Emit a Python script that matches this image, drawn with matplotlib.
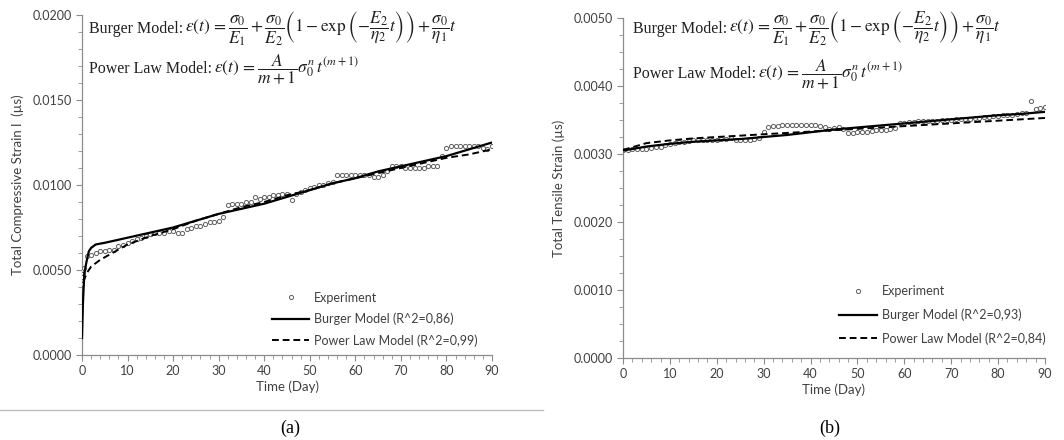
import numpy as np
import matplotlib
matplotlib.use("Agg")
import matplotlib.pyplot as plt
from matplotlib.ticker import MultipleLocator, FormatStrFormatter

# ----------------------------
# Datos
# ----------------------------
# (a) compresion
t_exp_a = [0, 0, 0, 0.2, 0.2, 0.4] + list(range(1, 91))
eps_exp_a = [0.0042, 0.0044, 0.0046, 0.0048, 0.0050, 0.0051,
             0.0058, 0.0059, 0.0060, 0.0061, 0.0061, 0.0062, 0.0062, 0.0064, 0.0065, 0.0066,
             0.0067, 0.0068, 0.0069, 0.0070, 0.0071, 0.0072, 0.0072, 0.0072, 0.0073, 0.0073,
             0.0072, 0.0072, 0.0074, 0.0075, 0.0076, 0.0076, 0.0077, 0.0078, 0.0078, 0.0079,
             0.0081, 0.0088, 0.0089, 0.0089, 0.0089, 0.0090, 0.0090, 0.0093, 0.0092, 0.0093,
             0.0093, 0.0094, 0.0094, 0.0095, 0.0095, 0.0091, 0.0095, 0.0096, 0.0097, 0.0098,
             0.0099, 0.0100, 0.0100, 0.0101, 0.0102, 0.0106, 0.0106, 0.0106, 0.0106, 0.0106,
             0.0106, 0.0106, 0.0106, 0.0105, 0.0105, 0.0106, 0.0108, 0.0111, 0.0111, 0.0111,
             0.0110, 0.0110, 0.0110, 0.0110, 0.0110, 0.0111, 0.0111, 0.0111, 0.0117, 0.0122,
             0.0123, 0.0123, 0.0123, 0.0123, 0.0123, 0.0123, 0.0123, 0.0122, 0.0121, 0.0123]

t_burger_a = [0, 0.2, 0.5, 1, 1.5, 2, 3, 5, 10, 15, 20, 25, 30, 35, 40, 45,
              50, 55, 60, 65, 70, 75, 80, 85, 90]
eps_burger_a = [0.0010, 0.0030, 0.0048, 0.0055, 0.0061, 0.0063, 0.0065, 0.0066, 0.0069,
                0.0072, 0.0075, 0.0079, 0.0083, 0.0086, 0.0089, 0.0093, 0.0097, 0.0101,
                0.0104, 0.0108, 0.0111, 0.0114, 0.0117, 0.0121, 0.0125]

t_power_a = [0.3, 1, 2, 4, 6, 8, 10, 15, 20, 25, 30, 35, 40, 45, 50, 55, 60, 65,
             70, 75, 80, 85, 90]
eps_power_a = [0.0043, 0.0048, 0.0052, 0.0056, 0.0059, 0.0062, 0.0065, 0.0070, 0.0074,
               0.0079, 0.0083, 0.0087, 0.0090, 0.0094, 0.0097, 0.0101, 0.0104, 0.0107,
               0.0110, 0.0113, 0.0116, 0.0118, 0.0121]

# (b) traccion
t_exp_b = list(range(0, 91))
eps_exp_b = [0.00306, 0.00306, 0.00307, 0.00307, 0.00308, 0.00308, 0.00309, 0.00310, 0.00311, 0.00313,
             0.00315, 0.00316, 0.00318, 0.00318, 0.00319, 0.00320, 0.00320, 0.00320, 0.00321, 0.00320,
             0.00321, 0.00322, 0.00322, 0.00323, 0.00321, 0.00320, 0.00320, 0.00321, 0.00322, 0.00323,
             0.00333, 0.00340, 0.00341, 0.00341, 0.00342, 0.00343, 0.00342, 0.00342, 0.00343, 0.00343,
             0.00342, 0.00342, 0.00341, 0.00340, 0.00337, 0.00338, 0.00339, 0.00337, 0.00331, 0.00331,
             0.00332, 0.00333, 0.00333, 0.00334, 0.00335, 0.00335, 0.00336, 0.00337, 0.00338, 0.00345,
             0.00346, 0.00347, 0.00347, 0.00348, 0.00348, 0.00349, 0.00349, 0.00349, 0.00350, 0.00350,
             0.00350, 0.00351, 0.00351, 0.00352, 0.00352, 0.00353, 0.00353, 0.00354, 0.00355, 0.00356,
             0.00356, 0.00357, 0.00358, 0.00358, 0.00359, 0.00360, 0.00361, 0.00378, 0.00366, 0.00368,
             0.00369]

t_model_b = [0, 5, 10, 15, 20, 25, 30, 35, 40, 45, 50, 55, 60, 65, 70, 75, 80, 85, 90]
eps_burger_b = [0.00305, 0.00311, 0.00315, 0.00318, 0.00320, 0.00322, 0.00325, 0.00328, 0.00332,
                0.00336, 0.00339, 0.00342, 0.00345, 0.00348, 0.00351, 0.00354, 0.00357, 0.00359,
                0.00362]
eps_power_b = [0.00306, 0.00316, 0.00320, 0.00323, 0.00325, 0.00327, 0.00329, 0.00331, 0.00333,
               0.00335, 0.00337, 0.00339, 0.00341, 0.00343, 0.00345, 0.00347, 0.00349, 0.00351,
               0.00353]

labels_a = ["Experiment", "Burger Model (R^2=0,86)", "Power Law Model (R^2=0,99)"]
labels_b = ["Experiment", "Burger Model (R^2=0,93)", "Power Law Model (R^2=0,84)"]

eq_burger = (r"$\varepsilon(t)\,=\dfrac{\sigma_0}{E_1}+\dfrac{\sigma_0}{E_2}"
             r"\left(1-\exp\left(-\dfrac{E_2}{\eta_2}t\right)\right)+\dfrac{\sigma_0}{\eta_1}t$")
eq_power = r"$\varepsilon(t)\,=\dfrac{A}{m+1}\sigma_0^n\,t^{(m+1)}$"

# ----------------------------
# Estilo
# ----------------------------
plt.rcParams['font.family'] = ['Lato', 'DejaVu Sans']
plt.rcParams['mathtext.fontset'] = 'stix'
GRIS = "#8c8c8c"
TXT = "#404040"

fig = plt.figure(figsize=(10.64, 4.4), dpi=100)
W, H = 1064, 440


def make_ax(x0, x1, ytop, ybot):
    return fig.add_axes([x0 / W, (H - ybot) / H, (x1 - x0) / W, (ybot - ytop) / H])


def style(ax, ymax, ymajor, yminor, ylabel):
    ax.set_xlim(0, 90)
    ax.set_ylim(0, ymax)
    ax.xaxis.set_major_locator(MultipleLocator(10))
    ax.xaxis.set_minor_locator(MultipleLocator(2))
    ax.yaxis.set_major_locator(MultipleLocator(ymajor))
    ax.yaxis.set_minor_locator(MultipleLocator(yminor))
    ax.yaxis.set_major_formatter(FormatStrFormatter("%.4f"))
    for s in ["top", "right"]:
        ax.spines[s].set_visible(False)
    for s in ["left", "bottom"]:
        ax.spines[s].set_color(GRIS)
        ax.spines[s].set_linewidth(0.9)
    ax.tick_params(which="both", direction="out", color=GRIS, labelcolor=TXT, labelsize=9)
    ax.tick_params(which="major", length=4)
    ax.tick_params(which="minor", length=3)
    ax.set_xlabel("Time (Day)", fontsize=9.5, color=TXT, labelpad=2)
    ax.set_ylabel(ylabel, fontsize=9.5, color=TXT, labelpad=6)
    ax.patch.set_alpha(0)


def draw(ax, te, ee, tb, eb, tp, ep, labels):
    ax.plot(te, ee, 'o', ms=3.0, mfc='white', mec='#606060', mew=0.7, label=labels[0], zorder=3)
    ax.plot(tb, eb, '-', color='black', lw=1.6, label=labels[1], zorder=4)
    ax.plot(tp, ep, '--', color='black', lw=1.4, dashes=(3.5, 2), label=labels[2], zorder=4)


def ecuacion(ax, x, y, nombre, eq):
    t = ax.text(x, y, nombre, transform=ax.transAxes, va="center", ha="left",
                fontsize=11.5, family="Liberation Serif", color="#202020")
    ax.annotate(eq, xy=(1, 0.5), xycoords=t, xytext=(1, 0), textcoords="offset points",
                va="center", ha="left", fontsize=12.5, color="#202020")


# (a)
ax1 = make_ax(82, 492, 15, 355)
style(ax1, 0.02, 0.005, 0.001, "Total Compressive Strain l  (µs)")
draw(ax1, t_exp_a, eps_exp_a, t_burger_a, eps_burger_a, t_power_a, eps_power_a, labels_a)
ax1.legend(loc="upper left", bbox_to_anchor=(0.463, 0.186), frameon=False, fontsize=9,
           handlelength=3.0, handletextpad=0.4, labelspacing=0.72, borderpad=0, borderaxespad=0,
           labelcolor=TXT)
ecuacion(ax1, 0.018, 0.96, "Burger Model:", eq_burger)
ecuacion(ax1, 0.018, 0.84, "Power Law Model:", eq_power)

# (b)
ax2 = make_ax(623, 1045, 18, 358)
style(ax2, 0.005, 0.001, 0.00025, "Total Tensile Strain (µs)")
draw(ax2, t_exp_b, eps_exp_b, t_model_b, eps_burger_b, t_model_b, eps_power_b, labels_b)
ax2.legend(loc="upper left", bbox_to_anchor=(0.512, 0.214), frameon=False, fontsize=9,
           handlelength=3.0, handletextpad=0.4, labelspacing=0.9, borderpad=0, borderaxespad=0,
           labelcolor=TXT)
ecuacion(ax2, 0.024, 0.968, "Burger Model:", eq_burger)
ecuacion(ax2, 0.024, 0.835, "Power Law Model:", eq_power)

# separador y subtitulos
fig.add_artist(plt.Line2D([0, 543 / W], [(H - 410) / H, (H - 410) / H], color="#bdbdbd", lw=1))
fig.text(290 / W, (H - 428) / H, "(a)", ha="center", va="center", fontsize=13, family="Liberation Serif")
fig.text(830 / W, (H - 428) / H, "(b)", ha="center", va="center", fontsize=13, family="Liberation Serif")

fig.savefig("out.png", dpi=100)
